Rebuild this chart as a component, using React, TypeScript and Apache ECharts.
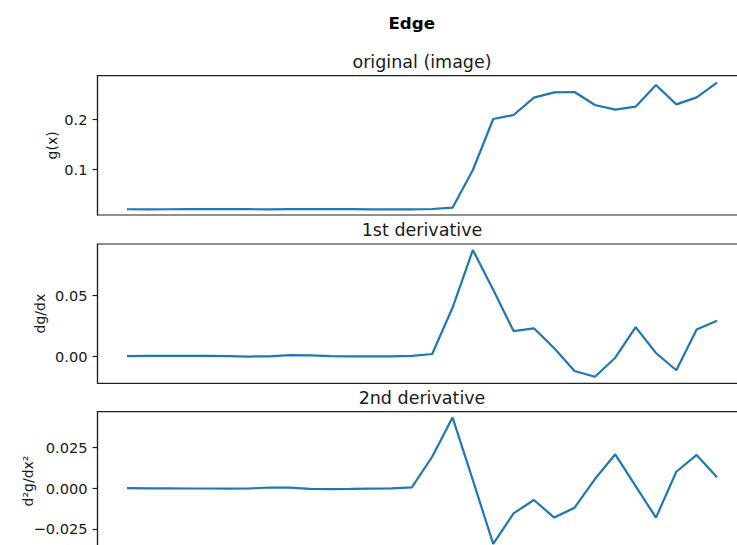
import React, { useEffect, useRef } from "react";
import * as echarts from "echarts";

// Edge profile g(x), sampled at 30 positions
const gValues = [
  0.0195, 0.0193, 0.0195, 0.0196, 0.0197, 0.0197, 0.0196, 0.0193, 0.0197, 0.0199,
  0.0198, 0.0196, 0.0194, 0.0193, 0.0194, 0.02, 0.0227, 0.098, 0.2, 0.208,
  0.2427, 0.2533, 0.254, 0.228, 0.2187, 0.2247, 0.268, 0.2293, 0.2433, 0.2727,
];

// First derivative dg/dx
const d1Values = [
  0.0, 0.0001, 0.0002, 0.0002, 0.0001, 0.0, -0.0004, -0.0002, 0.0008, 0.0006,
  0.0, -0.0002, -0.0003, -0.0002, 0.0002, 0.0017, 0.04, 0.0879, 0.055, 0.0207,
  0.023, 0.0065, -0.0124, -0.0172, -0.0014, 0.024, 0.0025, -0.0118, 0.0221, 0.0292,
];

// Second derivative d²g/dx²
const d2Values = [
  0.0001, 0.0, 0.0, -0.0001, -0.0001, -0.0002, -0.0001, 0.0005, 0.0004, -0.0003,
  -0.0005, -0.0004, -0.0002, 0.0, 0.0006, 0.0194, 0.0436, 0.005, -0.0342, -0.0154,
  -0.0072, -0.018, -0.0119, 0.0057, 0.0209, 0.0014, -0.018, 0.0102, 0.0205, 0.0068,
];

const panelTitles = ["original (image)", "1st derivative", "2nd derivative"];
const axisNames = ["g(x)", "dg/dx", "d²g/dx²"];
const tickValues = [[0.1, 0.2], [0.0, 0.05], [-0.025, 0.0, 0.025]];
const tickDecimals = [1, 2, 3];

const FONT = "DejaVu Sans";
const INK = "#1a1a1a";

export default function App() {
  const ref = useRef<HTMLDivElement>(null);

  useEffect(() => {
    if (!ref.current) return;
    const chart = echarts.init(ref.current, null, { renderer: "svg" });

    const series = [gValues, d1Values, d2Values];
    const gridTops = [75.7, 244, 411.7];
    const gridHeights = [139.3, 139.3, 138.6];
    const yRanges = [
      [0.008, 0.2866],
      [-0.0226, 0.0929],
      [-0.0381, 0.0471],
    ];
    const nameGaps = [39, 50.5, 62.5];
    const titleTops = [61.6, 229.9, 397.6];

    const fmt = (d: number) => (v: number) => {
      const s = Math.abs(v).toFixed(d);
      return v < -1e-9 ? "\u2212" + s : s;
    };

    chart.setOption({
      animation: false,
      backgroundColor: "#ffffff",
      textStyle: { fontFamily: FONT },
      title: [
        {
          text: "Edge",
          left: 411.7,
          top: 22.5,
          textAlign: "center",
          textVerticalAlign: "middle",
          padding: 0,
          textStyle: { fontFamily: FONT, fontSize: 16.7, fontWeight: "bold", color: "#000" },
        },
        ...panelTitles.map((t, i) => ({
          text: t,
          left: 422,
          top: titleTops[i],
          textAlign: "center",
          textVerticalAlign: "middle",
          padding: 0,
          textStyle: { fontFamily: FONT, fontSize: 17.5, fontWeight: "normal", color: INK },
        })),
      ],
      grid: gridTops.map((top, i) => ({
        left: 97.5,
        top,
        width: 649,
        height: gridHeights[i],
        show: true,
        borderColor: "#222",
        borderWidth: 1.2,
        backgroundColor: "transparent",
        containLabel: false,
      })),
      xAxis: gridTops.map((_, i) => ({
        type: "value",
        gridIndex: i,
        min: -1.45,
        max: 30.45,
        axisLine: { show: false },
        axisTick: { show: false },
        axisLabel: { show: false },
        splitLine: { show: false },
      })),
      yAxis: gridTops.map((_, i) => ({
        type: "value",
        gridIndex: i,
        min: yRanges[i][0],
        max: yRanges[i][1],
        name: axisNames[i],
        nameLocation: "middle",
        nameRotate: 90,
        nameGap: nameGaps[i],
        nameMoveOverlap: false,
        nameTextStyle: { fontFamily: FONT, fontSize: 14, color: INK },
        axisLine: { show: true, onZero: false, lineStyle: { color: "#222", width: 1.2 } },
        axisTick: {
          show: true,
          length: 5,
          customValues: tickValues[i],
          lineStyle: { color: "#222", width: 1.2 },
        },
        axisLabel: {
          show: true,
          margin: 10,
          customValues: tickValues[i],
          formatter: fmt(tickDecimals[i]),
          fontFamily: FONT,
          fontSize: 14.6,
          color: INK,
        },
        splitLine: { show: false },
      })),
      series: series.map((vals, i) => ({
        type: "line",
        xAxisIndex: i,
        yAxisIndex: i,
        data: vals.map((v, k) => [k, v]),
        symbol: "none",
        lineStyle: { color: "#1f77b4", width: 2.2 },
        itemStyle: { color: "#1f77b4" },
      })),
    });

    return () => chart.dispose();
  }, []);

  // The chart canvas is larger than the visible frame; the frame crops its right and bottom edges.
  return (
    <div
      style={{
        position: "absolute",
        left: 0,
        top: 0,
        width: 737,
        height: 545,
        overflow: "hidden",
        background: "#fff",
      }}
    >
      <div ref={ref} style={{ width: 760, height: 560 }} />
    </div>
  );
}
